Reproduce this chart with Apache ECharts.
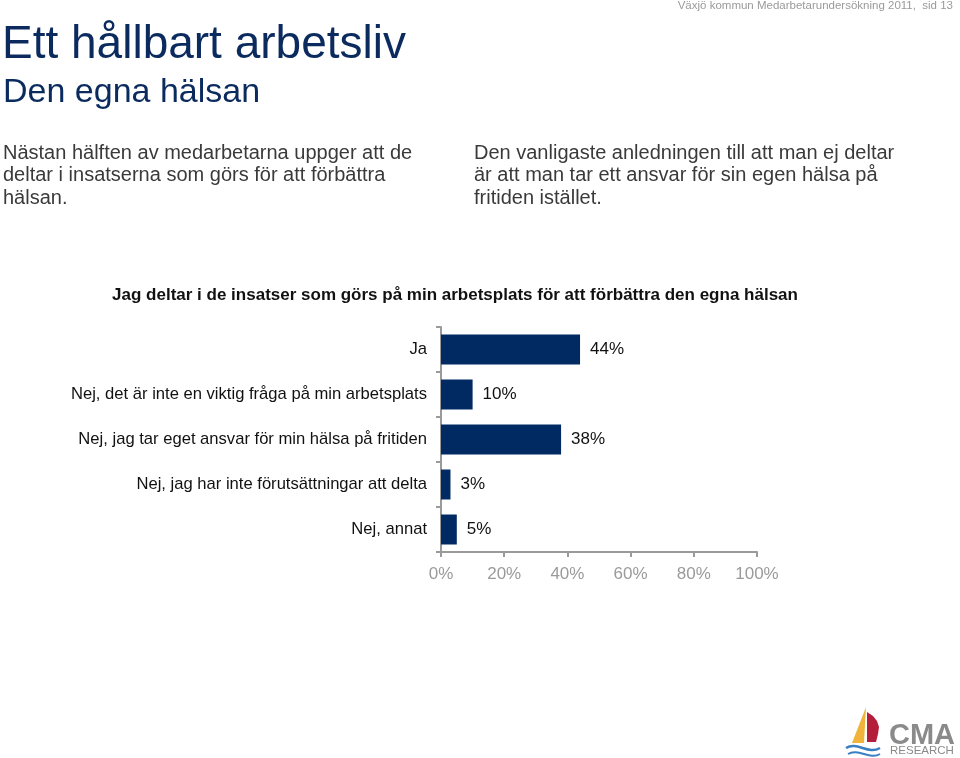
<!DOCTYPE html>
<html><head><meta charset="utf-8">
<script src="https://cdn.jsdelivr.net/npm/echarts@6/dist/echarts.min.js"></script>
<style>html,body{margin:0;padding:0;background:#fff}#c{width:960px;height:758px}</style>
</head><body><div id="c"></div>
<script>
const categories = ['Ja','Nej, det är inte en viktig fråga på min arbetsplats','Nej, jag tar eget ansvar för min hälsa på fritiden','Nej, jag har inte förutsättningar att delta','Nej, annat'];
const values = [44,10,38,3,5];
const xTicks = ['0%','20%','40%','60%','80%','100%'];
const chartTitle = 'Jag deltar i de insatser som görs på min arbetsplats för att förbättra den egna hälsan';

const F = '"Liberation Sans", Arial, sans-serif';
const navy = '#0b2a5e';
const chart = echarts.init(document.getElementById('c'));
chart.setOption({
  backgroundColor:'#fff',
  animation:false,
  grid:{left:441,right:203,top:327,bottom:206,containLabel:false},
  xAxis:{type:'value',min:0,max:100,interval:20,
    axisLine:{show:true,lineStyle:{color:'#9a9a9a',width:2}},
    axisTick:{show:true,length:5,lineStyle:{color:'#9a9a9a',width:2}},
    splitLine:{show:false},
    axisLabel:{color:'#9a9a9a',fontFamily:F,fontSize:17,margin:14,formatter:(v)=>xTicks[v/20]}},
  yAxis:{type:'category',data:categories,inverse:true,
    axisLine:{show:true,lineStyle:{color:'#9a9a9a',width:2}},
    axisTick:{show:true,length:5,lineStyle:{color:'#9a9a9a',width:2}},
    axisLabel:{color:'#111',fontFamily:F,fontSize:16.6,margin:14}},
  series:[{type:'bar',data:values,barWidth:30,itemStyle:{color:'#012a62'},
    label:{show:true,position:'right',distance:10,color:'#111',fontFamily:F,fontSize:17,formatter:'{c}%'}}],
  graphic:[
    {type:'text',right:7,top:0,style:{text:'Växjö kommun Medarbetarundersökning 2011,  sid 13',fill:'#9a9a9a',font:'11.5px '+F}},
    {type:'text',left:2,top:22,style:{text:'Ett hållbart arbetsliv',fill:navy,font:'46px '+F}},
    {type:'text',left:3,top:76,style:{text:'Den egna hälsan',fill:navy,font:'34px '+F}},
    {type:'text',left:3,top:142,style:{text:'Nästan hälften av medarbetarna uppger att de\ndeltar i insatserna som görs för att förbättra\nhälsan.',fill:'#3a3a3a',font:'20px '+F,lineHeight:22.5}},
    {type:'text',left:474,top:142,style:{text:'Den vanligaste anledningen till att man ej deltar\när att man tar ett ansvar för sin egen hälsa på\nfritiden istället.',fill:'#3a3a3a',font:'20px '+F,lineHeight:22.5}},
    {type:'text',x:455,y:295,style:{text:chartTitle,fill:'#111',font:'bold 17px "Liberation Sans Narrow", '+F,align:'center',verticalAlign:'middle'}},
    // logo
    {type:'polygon',shape:{points:[[866,707],[852,743],[864,743]]},style:{fill:'#f0b43a'}},
    {type:'polygon',shape:{points:[[867,712],[873,716],[877,721],[879,727],[878,734],[876,742],[867,742]]},style:{fill:'#b31e3a'}},
    {type:'bezierCurve',shape:{x1:846,y1:748,x2:880,y2:748,cpx1:857,cpy1:741,cpx2:868,cpy2:755},style:{stroke:'#3a7fc1',lineWidth:2.5,fill:null}},
    {type:'bezierCurve',shape:{x1:848,y1:754,x2:880,y2:754,cpx1:858,cpy1:748,cpx2:870,cpy2:760},style:{stroke:'#3a7fc1',lineWidth:2,fill:null}},
    {type:'text',left:889,top:721,style:{text:'CMA',fill:'#8a8a8a',font:'bold 29px '+F}},
    {type:'text',left:890,top:745,style:{text:'RESEARCH',fill:'#8a8a8a',font:'11.5px '+F}}
  ]
});
</script></body></html>
